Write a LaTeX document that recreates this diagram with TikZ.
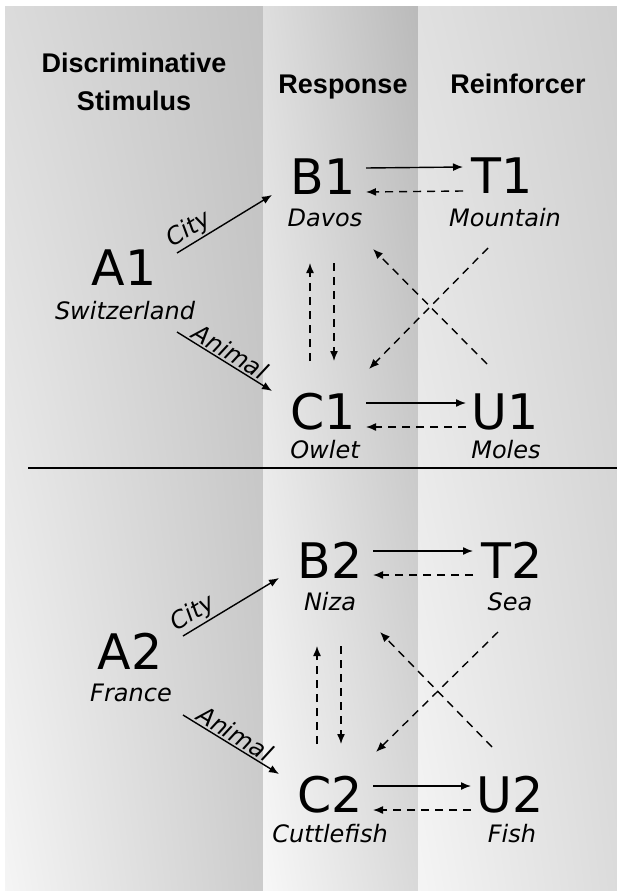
\documentclass[tikz,border=0pt]{standalone}
\usepackage{fontspec}
\setmainfont{DejaVu Sans}
\newfontfamily\headfont{Liberation Sans}
\usetikzlibrary{arrows.meta,shadings}
\newcommand{\bigfnt}{\fontsize{49}{50}\selectfont}
\newcommand{\itfnt}{\fontsize{24}{26}\selectfont\itshape}
\definecolor{colA}{gray}{0.86}
\definecolor{colB}{gray}{0.76}
\definecolor{colC}{gray}{0.96}
\definecolor{colD}{gray}{0.80}
\tikzset{
  letter/.style={font=\bigfnt, inner sep=0pt},
  word/.style={font=\itfnt, inner sep=0pt},
  head/.style={font=\headfont\bfseries\fontsize{27}{37}\selectfont, align=center, anchor=base, inner sep=0pt},
  link/.style={-{Latex[length=10pt,width=8pt]}, line width=1.4pt},
  back/.style={link, dash pattern=on 8pt off 6pt},
  cue/.style={font=\itfnt, sloped, above, inner sep=1.5pt},
}

\begin{document}
\begin{tikzpicture}[x=1pt,y=1pt]
	\useasboundingbox (0,0) rectangle (617,-891);
	% columns
	\shade[upper left=colA, upper right=colB, lower left=colC, lower right=colD] (5,-7) rectangle (263,-891);
	\shade[upper left=black!13, upper right=black!27, lower left=black!3, lower right=black!15] (263,-7) rectangle (418,-891);
	\shade[upper left=black!12, upper right=black!19, lower left=black!4, lower right=black!14] (418,-7) rectangle (617,-891);
	\draw[line width=2.8pt] (28,-468) -- (617,-468);

	\node[head] (disc) at (134,-110) {Discriminative\\Stimulus};
	\node[head] (resp) at (343,-93) {Response};
	\node[head] (rein) at (518,-93) {Reinforcer};

	% upper set
	\node[letter] (A1) at (124,-268) {A1};
	\node[word] (A1w) at (125,-311) {Switzerland};
	\node[letter] (B1) at (323,-177) {B1};
	\node[word] (B1w) at (325,-218) {Davos};
	\node[letter] (T1) at (502,-176) {T1};
	\node[word] (T1w) at (505,-218) {Mountain};
	\node[letter] (C1) at (323,-412) {C1};
	\node[word] (C1w) at (325,-450) {Owlet};
	\node[letter] (U1) at (505,-412) {U1};
	\node[word] (U1w) at (506,-450) {Moles};

	\draw[link] ([shift={(53,15)}]A1.center) -- node[cue,pos=.2] (city1) {City} ([shift={(-51,-18)}]B1.center);
	\draw[link] ([shift={(53,-64)}]A1.center) -- node[cue,pos=.5] (anim1) {Animal} ([shift={(-51,21)}]C1.center);
	\draw[link] ([shift={(43,9)}]B1.center) -- ([shift={(-39,9)}]T1.center);
	\draw[back] ([shift={(-39,-15)}]T1.center) -- ([shift={(43,-15)}]B1.center);
	\draw[link] ([shift={(43,9)}]C1.center) -- ([shift={(-39,9)}]U1.center);
	\draw[back] ([shift={(-39,-15)}]U1.center) -- ([shift={(43,-15)}]C1.center);
	\draw[back] ([shift={(-13,51)}]C1.center) -- ([shift={(-13,-86)}]B1.center);
	\draw[back] ([shift={(11,-86)}]B1.center) -- ([shift={(11,51)}]C1.center);
	\draw[back] ([shift={(-18,48)}]U1.center) -- ([shift={(50,-72)}]B1.center);
	\draw[back] ([shift={(-14,-72)}]T1.center) -- ([shift={(46,43)}]C1.center);

	% lower set
	\node[letter] (A2) at (130,-651) {A2};
	\node[word] (A2w) at (131,-693) {France};
	\node[letter] (B2) at (330,-560) {B2};
	\node[word] (B2w) at (330,-602) {Niza};
	\node[letter] (T2) at (512,-560) {T2};
	\node[word] (T2w) at (510,-602) {Sea};
	\node[letter] (C2) at (330,-795) {C2};
	\node[word] (C2w) at (330,-834) {Cuttlefish};
	\node[letter] (U2) at (510,-795) {U2};
	\node[word] (U2w) at (512,-834) {Fish};

	\draw[link] ([shift={(53,15)}]A2.center) -- node[cue,pos=.18] (city2) {City} ([shift={(-51,-18)}]B2.center);
	\draw[link] ([shift={(53,-64)}]A2.center) -- node[cue,pos=.48] (anim2) {Animal} ([shift={(-51,21)}]C2.center);
	\draw[link] ([shift={(43,9)}]B2.center) -- ([shift={(-39,9)}]T2.center);
	\draw[back] ([shift={(-39,-15)}]T2.center) -- ([shift={(43,-15)}]B2.center);
	\draw[link] ([shift={(43,9)}]C2.center) -- ([shift={(-39,9)}]U2.center);
	\draw[back] ([shift={(-39,-15)}]U2.center) -- ([shift={(43,-15)}]C2.center);
	\draw[back] ([shift={(-13,51)}]C2.center) -- ([shift={(-13,-86)}]B2.center);
	\draw[back] ([shift={(11,-86)}]B2.center) -- ([shift={(11,51)}]C2.center);
	\draw[back] ([shift={(-18,48)}]U2.center) -- ([shift={(50,-72)}]B2.center);
	\draw[back] ([shift={(-14,-72)}]T2.center) -- ([shift={(46,43)}]C2.center);
\end{tikzpicture}
\end{document}
